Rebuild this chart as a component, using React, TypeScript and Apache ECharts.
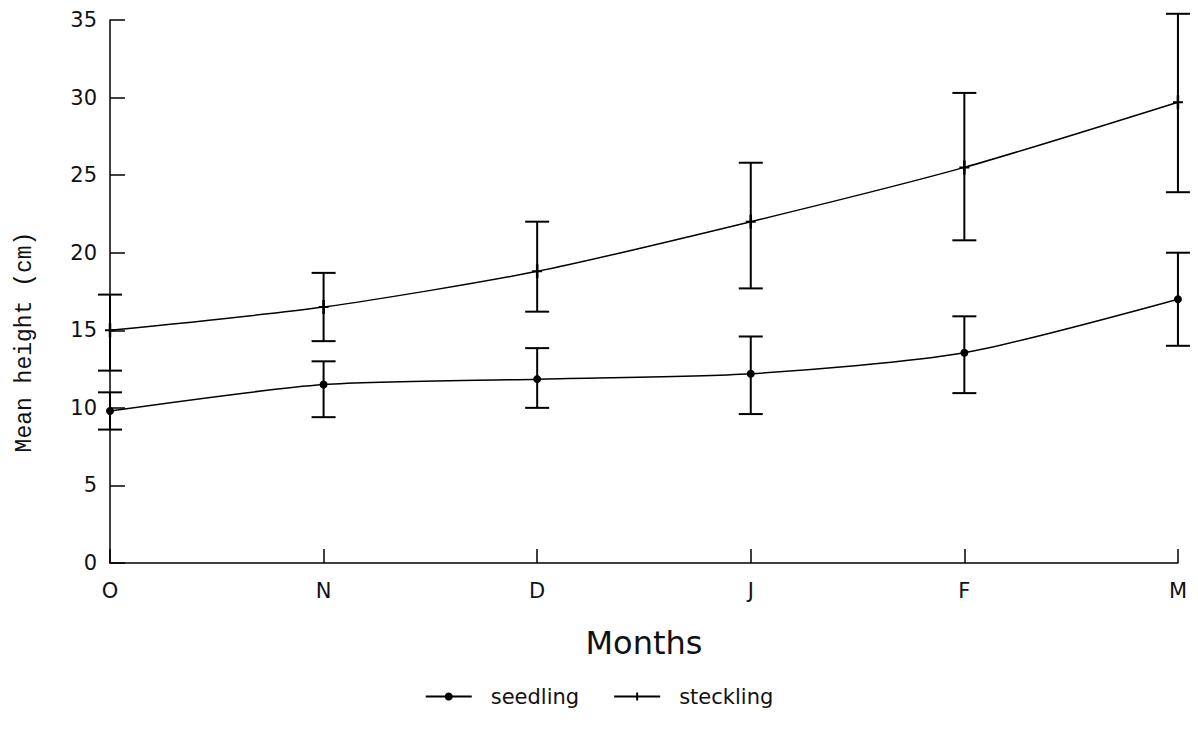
import React, { useEffect, useRef } from "react";
import * as echarts from "echarts";

const months = ["O", "N", "D", "J", "F", "M"];
const seedlingMean = [9.8, 11.5, 11.85, 12.2, 13.55, 17.0];
const seedlingLow = [8.6, 9.4, 10.0, 9.6, 10.95, 14.0];
const seedlingHigh = [11.0, 13.0, 13.85, 14.6, 15.9, 20.0];
const stecklingMean = [15.0, 16.5, 18.8, 22.0, 25.5, 29.7];
const stecklingLow = [12.4, 14.3, 16.2, 17.7, 20.8, 23.9];
const stecklingHigh = [17.3, 18.7, 22.0, 25.8, 30.3, 35.4];

const PLUS = "path://M4,0 L6,0 L6,14 L4,14 Z M1,6 L9,6 L9,8 L1,8 Z";

function errorData(low: number[], high: number[]) {
  return low.map((l, i) => [i, l, high[i]]);
}

function errorRender(params: any, api: any) {
  const x = api.value(0);
  const lo = api.coord([x, api.value(1)]);
  const hi = api.coord([x, api.value(2)]);
  const half = 12;
  const style = { stroke: "#000", lineWidth: 2 };
  return {
    type: "group",
    children: [
      { type: "line", shape: { x1: lo[0], y1: lo[1], x2: hi[0], y2: hi[1] }, style },
      { type: "line", shape: { x1: hi[0] - half, y1: hi[1], x2: hi[0] + half, y2: hi[1] }, style },
      { type: "line", shape: { x1: lo[0] - half, y1: lo[1], x2: lo[0] + half, y2: lo[1] }, style },
    ],
  };
}

export default function App() {
  const ref = useRef<HTMLDivElement>(null);
  useEffect(() => {
    if (!ref.current) return;
    const chart = echarts.init(ref.current, null, { renderer: "svg" });
    const font = "DejaVu Sans";
    chart.setOption({
      animation: false,
      backgroundColor: "#fff",
      grid: { left: 102, right: 7, top: 12, bottom: 176 },
      xAxis: {
        type: "category",
        data: months,
        boundaryGap: false,
        name: "Months",
        nameLocation: "middle",
        nameGap: 64,
        nameTextStyle: { fontFamily: font, fontSize: 32, color: "#111" },
        axisLine: { lineStyle: { color: "#000", width: 1.5 } },
        axisTick: { inside: true, length: 14, lineStyle: { color: "#000", width: 1.5 } },
        axisLabel: { fontFamily: font, fontSize: 21, color: "#111", margin: 17 },
        splitLine: { show: false },
      },
      yAxis: {
        type: "value",
        min: 0,
        max: 35,
        interval: 5,
        axisLine: { show: true, lineStyle: { color: "#000", width: 1.5 } },
        axisTick: { show: true, inside: true, length: 15, lineStyle: { color: "#000", width: 1.5 } },
        axisLabel: { fontFamily: font, fontSize: 21, color: "#111", margin: 13 },
        splitLine: { show: false },
      },
      legend: {
        bottom: 27,
        left: "center",
        itemWidth: 46,
        itemHeight: 10,
        itemGap: 34,
        textStyle: { fontFamily: font, fontSize: 21, color: "#111", padding: [0, 0, 0, 14] },
        data: [{ name: "seedling" }, { name: "steckling" }],
      },
      graphic: [
        {
          type: "text",
          x: 5,
          y: 334,
          rotation: Math.PI / 2,
          style: {
            text: "Mean height (cm)",
            font: "23px 'Liberation Mono'",
            fill: "#111",
            align: "center",
            verticalAlign: "top",
          },
        },
      ],
      series: [
        {
          name: "seedling",
          type: "line",
          data: seedlingMean,
          smooth: 0.25,
          symbol: "circle",
          symbolSize: 8,
          itemStyle: { color: "#000" },
          lineStyle: { color: "#000", width: 1.5 },
          z: 3,
        },
        {
          name: "steckling",
          type: "line",
          data: stecklingMean,
          smooth: 0.25,
          symbol: PLUS,
          symbolSize: [10, 14],
          itemStyle: { color: "#000" },
          lineStyle: { color: "#000", width: 1.5 },
          z: 3,
        },
        {
          name: "seedling-err",
          type: "custom",
          renderItem: errorRender,
          data: errorData(seedlingLow, seedlingHigh),
          encode: { x: 0, y: [1, 2] },
          z: 2,
          silent: true,
        },
        {
          name: "steckling-err",
          type: "custom",
          renderItem: errorRender,
          data: errorData(stecklingLow, stecklingHigh),
          encode: { x: 0, y: [1, 2] },
          z: 2,
          silent: true,
        },
      ],
    });
    return () => chart.dispose();
  }, []);
  return <div ref={ref} style={{ width: 1182, height: 731 }} />;
}
